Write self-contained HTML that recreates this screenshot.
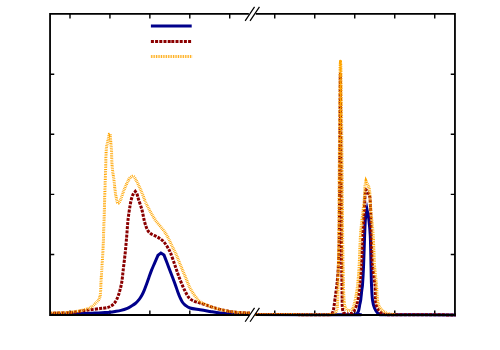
<!DOCTYPE html>
<html><head><meta charset="utf-8"><title>chart</title>
<style>html,body{margin:0;padding:0;background:#fff;font-family:"Liberation Sans",sans-serif;}svg{display:block}</style>
</head><body>
<svg width="500" height="350" viewBox="0 0 500 350">
<rect width="500" height="350" fill="#fff"/>
<defs><clipPath id="cl"><rect x="50.05" y="0" width="200.05" height="317.00"/></clipPath>
<clipPath id="cr"><rect x="255.00" y="0" width="200.85" height="317.00"/></clipPath></defs>
<path d="M70.00,13.90 v4.60 M70.00,315.00 v-4.60 M274.75,13.90 v4.60 M274.75,315.00 v-4.60 M109.93,13.90 v4.60 M109.93,315.00 v-4.60 M314.75,13.90 v4.60 M314.75,315.00 v-4.60 M149.86,13.90 v4.60 M149.86,315.00 v-4.60 M354.75,13.90 v4.60 M354.75,315.00 v-4.60 M189.79,13.90 v4.60 M189.79,315.00 v-4.60 M394.75,13.90 v4.60 M394.75,315.00 v-4.60 M229.72,13.90 v4.60 M229.72,315.00 v-4.60 M434.75,13.90 v4.60 M434.75,315.00 v-4.60 M50.05,74.20 h4.20 M454.95,74.20 h-4.20 M50.05,134.30 h4.20 M454.95,134.30 h-4.20 M50.05,194.40 h4.20 M454.95,194.40 h-4.20 M50.05,254.50 h4.20 M454.95,254.50 h-4.20" fill="none" stroke="#000" stroke-width="1.4"/>
<g clip-path="url(#cl)"><path d="M48.00,314.50 C51.67,314.42 63.83,314.17 70.00,314.00 C76.17,313.83 80.83,313.65 85.00,313.50 C89.17,313.35 91.67,313.25 95.00,313.10 C98.33,312.95 102.50,312.75 105.00,312.60 C107.50,312.45 108.33,312.38 110.00,312.20 C111.67,312.02 113.17,311.80 115.00,311.50 C116.83,311.20 118.95,310.93 121.00,310.40 C123.05,309.87 125.55,309.03 127.30,308.30 C129.05,307.57 130.17,306.80 131.50,306.00 C132.83,305.20 134.02,304.60 135.30,303.50 C136.58,302.40 138.08,300.82 139.20,299.40 C140.32,297.98 141.13,296.60 142.00,295.00 C142.87,293.40 143.62,291.67 144.40,289.80 C145.18,287.93 145.93,285.90 146.70,283.80 C147.47,281.70 148.22,279.40 149.00,277.20 C149.78,275.00 150.48,272.92 151.40,270.60 C152.32,268.28 153.40,265.85 154.50,263.30 C155.60,260.75 156.83,257.97 158.00,255.30 C158.97,254.53 159.93,253.77 160.90,253.00 C161.93,253.67 162.97,254.33 164.00,255.00 C165.00,257.60 166.00,260.18 167.00,262.80 C168.00,265.42 169.03,268.17 170.00,270.70 C170.97,273.23 171.90,275.62 172.80,278.00 C173.70,280.38 174.53,282.58 175.40,285.00 C176.27,287.42 177.23,290.42 178.00,292.50 C178.77,294.58 179.28,295.92 180.00,297.50 C180.72,299.08 181.47,300.75 182.30,302.00 C183.13,303.25 183.72,304.00 185.00,305.00 C186.28,306.00 187.50,307.20 190.00,308.00 C192.50,308.80 196.67,309.23 200.00,309.80 C203.33,310.37 206.67,310.88 210.00,311.40 C213.33,311.92 216.67,312.48 220.00,312.90 C223.33,313.32 226.67,313.65 230.00,313.90 C233.33,314.15 236.33,314.28 240.00,314.40 C243.67,314.52 250.00,314.57 252.00,314.60" fill="none" stroke="#00008b" stroke-width="3" stroke-linejoin="miter" stroke-miterlimit="10"/></g>
<g clip-path="url(#cr)"><path d="M253.00,314.60 C266.47,314.62 340.20,314.82 354.00,314.75 C367.80,314.68 355.90,314.60 356.50,314.10 C357.10,313.60 358.07,312.21 358.50,311.00 C358.93,309.79 359.41,306.47 359.70,305.00 C359.99,303.53 360.42,302.00 360.70,300.00 C360.98,298.00 361.56,292.00 361.80,290.00 C362.04,288.00 362.26,288.33 362.50,285.00 C362.74,281.67 363.32,271.53 363.60,265.00 C363.88,258.47 364.36,242.13 364.60,236.00 C364.84,229.87 365.07,222.49 365.40,219.00 C365.73,215.51 366.50,212.89 367.05,209.83 C367.63,212.89 368.37,215.51 368.80,219.00 C369.23,222.49 370.01,229.87 370.30,236.00 C370.59,242.13 370.84,258.47 371.00,265.00 C371.16,271.53 371.30,280.33 371.50,285.00 C371.70,289.67 372.10,296.93 372.50,300.00 C372.90,303.07 373.83,306.27 374.50,308.00 C375.17,309.73 376.70,312.12 377.50,313.00 C378.30,313.88 379.37,314.37 380.50,314.60 C381.63,314.83 375.67,314.71 386.00,314.75 C396.33,314.79 448.40,314.88 458.00,314.90" fill="none" stroke="#00008b" stroke-width="3" stroke-linejoin="miter" stroke-miterlimit="10"/></g>
<g clip-path="url(#cl)"><path d="M48.00,313.30 C51.67,313.18 64.67,312.95 70.00,312.60 C75.33,312.25 76.67,311.67 80.00,311.20 C83.33,310.73 86.67,310.23 90.00,309.80 C93.33,309.37 97.50,308.90 100.00,308.60 C102.50,308.30 103.67,308.20 105.00,308.00 C106.33,307.80 107.08,307.68 108.00,307.40 C108.92,307.12 109.75,306.70 110.50,306.30 C111.25,305.90 111.80,305.60 112.50,305.00 C113.20,304.40 114.03,303.53 114.70,302.70 C115.37,301.87 115.87,301.28 116.50,300.00 C117.13,298.72 117.92,296.67 118.50,295.00 C119.08,293.33 119.45,292.17 120.00,290.00 C120.55,287.83 121.27,285.33 121.80,282.00 C122.33,278.67 122.62,275.00 123.20,270.00 C123.78,265.00 124.70,257.83 125.30,252.00 C125.90,246.17 126.35,240.33 126.80,235.00 C127.25,229.67 127.47,224.83 128.00,220.00 C128.53,215.17 129.38,209.67 130.00,206.00 C130.62,202.33 131.12,200.08 131.70,198.00 C132.28,195.92 132.91,194.59 133.50,193.50 C134.09,192.41 134.67,192.14 135.26,191.46 C135.84,192.30 136.43,192.58 137.00,194.00 C137.57,195.42 137.87,197.33 138.70,200.00 C139.53,202.67 141.02,206.33 142.00,210.00 C142.98,213.67 143.68,218.67 144.60,222.00 C145.52,225.33 146.43,228.03 147.50,230.00 C148.57,231.97 149.58,232.75 151.00,233.80 C152.42,234.85 154.50,235.48 156.00,236.30 C157.50,237.12 158.75,237.83 160.00,238.70 C161.25,239.57 162.33,240.23 163.50,241.50 C164.67,242.77 165.85,244.45 167.00,246.30 C168.15,248.15 169.07,249.42 170.40,252.60 C171.73,255.78 173.50,261.17 175.00,265.40 C176.50,269.63 177.82,273.90 179.40,278.00 C180.98,282.10 182.87,286.67 184.50,290.00 C186.13,293.33 187.53,296.12 189.20,298.00 C190.87,299.88 192.70,300.47 194.50,301.30 C196.30,302.13 197.42,302.15 200.00,303.00 C202.58,303.85 206.67,305.33 210.00,306.40 C213.33,307.47 216.67,308.55 220.00,309.40 C223.33,310.25 226.67,310.97 230.00,311.50 C233.33,312.03 236.33,312.33 240.00,312.60 C243.67,312.87 250.00,313.02 252.00,313.10" fill="none" stroke="#8b0000" stroke-width="3" stroke-linejoin="miter" stroke-miterlimit="10" stroke-dasharray="3 1.2" stroke-dashoffset="3.317"/></g>
<g clip-path="url(#cr)"><path d="M253.00,314.55 C262.73,314.56 315.73,314.67 326.00,314.65 C336.27,314.63 329.20,314.57 330.00,314.40 C330.80,314.23 331.57,313.85 332.00,313.40 C332.43,312.95 332.96,311.72 333.20,311.00 C333.44,310.28 333.51,310.00 333.80,308.00 C334.09,306.00 334.95,299.47 335.40,296.00 C335.85,292.53 336.77,286.53 337.20,282.00 C337.63,277.47 338.32,268.93 338.60,262.00 C338.88,255.07 339.14,244.93 339.30,230.00 C339.46,215.07 339.67,170.80 339.80,150.00 C339.93,129.20 340.13,99.33 340.30,74.00 C340.50,99.33 340.77,129.20 340.90,150.00 C341.03,170.80 341.21,215.07 341.30,230.00 C341.39,244.93 341.49,253.20 341.60,262.00 C341.71,270.80 342.02,290.27 342.10,296.00 C342.18,301.73 342.12,303.13 342.20,305.00 C342.28,306.87 342.49,308.93 342.70,310.00 C342.91,311.07 343.12,312.51 343.80,313.00 C344.48,313.49 347.27,313.61 347.80,313.70" fill="none" stroke="#8b0000" stroke-width="3" stroke-linejoin="round" stroke-miterlimit="10" stroke-dasharray="3 1.2" stroke-dashoffset="2.165"/></g>
<g clip-path="url(#cr)"><path d="M347.80,313.70 C348.28,313.66 350.68,313.63 351.40,313.40 C352.12,313.17 352.77,312.48 353.20,312.00 C353.63,311.52 354.13,310.73 354.60,309.80 C355.07,308.87 356.26,306.31 356.70,305.00 C357.14,303.69 357.54,302.00 357.90,300.00 C358.26,298.00 358.92,294.67 359.40,290.00 C359.88,285.33 361.05,272.33 361.50,265.00 C361.95,257.67 362.47,241.67 362.80,235.00 C363.13,228.33 363.72,219.93 364.00,215.00 C364.28,210.07 364.73,200.93 364.90,198.00 C365.07,195.07 365.15,194.12 365.30,193.00 C365.45,191.88 365.77,190.73 366.00,189.60 C366.83,190.90 367.97,192.38 368.50,193.50 C369.03,194.62 369.69,195.13 370.00,198.00 C370.31,200.87 370.64,210.07 370.80,215.00 C370.96,219.93 370.97,228.33 371.20,235.00 C371.43,241.67 371.99,258.33 372.50,265.00 C373.01,271.67 374.60,280.33 375.00,285.00 C375.40,289.67 375.34,297.33 375.50,300.00 C375.66,302.67 375.80,303.67 376.20,305.00 C376.60,306.33 377.73,308.87 378.50,310.00 C379.27,311.13 381.00,312.90 382.00,313.50 C383.00,314.10 384.67,314.33 386.00,314.50 C387.33,314.67 382.40,314.70 392.00,314.75 C401.60,314.80 449.20,314.88 458.00,314.90" fill="none" stroke="#8b0000" stroke-width="3" stroke-linejoin="round" stroke-miterlimit="10" stroke-dasharray="3 1.2" stroke-dashoffset="1.991"/></g>
<g clip-path="url(#cl)"><path d="M48.00,313.00 C50.00,312.97 56.33,312.92 60.00,312.80 C63.67,312.68 66.67,312.65 70.00,312.30 C73.33,311.95 77.50,311.17 80.00,310.70 C82.50,310.23 83.33,309.98 85.00,309.50 C86.67,309.02 88.58,308.50 90.00,307.80 C91.42,307.10 92.37,306.27 93.50,305.30 C94.63,304.33 95.92,302.95 96.80,302.00 C97.68,301.05 98.27,300.52 98.80,299.60 C99.33,298.68 99.72,297.68 100.00,296.50 C100.28,295.32 100.37,293.92 100.50,292.50 C100.63,291.08 100.70,290.08 100.80,288.00 C100.90,285.92 100.83,284.67 101.10,280.00 C101.37,275.33 102.02,266.67 102.40,260.00 C102.78,253.33 102.97,252.00 103.40,240.00 C103.83,228.00 104.63,199.67 105.00,188.00 C105.37,176.33 105.45,175.00 105.60,170.00 C105.75,165.00 105.78,161.50 105.90,158.00 C106.02,154.50 106.10,151.25 106.30,149.00 C106.50,146.75 106.78,146.08 107.10,144.50 C107.42,142.92 107.83,141.22 108.20,139.50 C108.57,137.78 108.93,135.97 109.30,134.20 C109.60,134.13 109.90,134.07 110.20,134.00 C110.33,135.83 110.47,137.67 110.60,139.50 C110.73,141.33 110.85,143.25 111.00,145.00 C111.15,146.75 111.37,147.50 111.50,150.00 C111.63,152.50 111.63,156.67 111.80,160.00 C111.97,163.33 112.13,166.67 112.50,170.00 C112.87,173.33 113.58,176.67 114.00,180.00 C114.42,183.33 114.58,186.83 115.00,190.00 C115.42,193.17 116.00,196.80 116.50,199.00 C117.00,201.20 117.33,203.03 118.00,203.20 C118.67,203.37 119.50,202.20 120.50,200.00 C121.50,197.80 122.67,193.33 124.00,190.00 C125.33,186.67 127.30,182.20 128.50,180.00 C129.70,177.80 130.38,177.40 131.20,176.80 C132.02,176.20 132.63,175.92 133.40,176.40 C134.17,176.88 134.95,178.27 135.80,179.70 C136.65,181.13 137.63,183.20 138.50,185.00 C139.37,186.80 139.98,188.05 141.00,190.50 C142.02,192.95 143.67,197.37 144.60,199.70 C145.53,202.03 145.03,201.45 146.60,204.50 C148.17,207.55 151.77,214.42 154.00,218.00 C156.23,221.58 158.33,223.83 160.00,226.00 C161.67,228.17 162.67,229.08 164.00,231.00 C165.33,232.92 166.67,235.00 168.00,237.50 C169.33,240.00 170.67,243.25 172.00,246.00 C173.33,248.75 174.67,251.00 176.00,254.00 C177.33,257.00 178.50,260.33 180.00,264.00 C181.50,267.67 183.33,272.00 185.00,276.00 C186.67,280.00 188.33,284.67 190.00,288.00 C191.67,291.33 193.33,293.73 195.00,296.00 C196.67,298.27 197.50,299.87 200.00,301.60 C202.50,303.33 206.67,305.10 210.00,306.40 C213.33,307.70 216.67,308.55 220.00,309.40 C223.33,310.25 226.67,310.97 230.00,311.50 C233.33,312.03 236.33,312.33 240.00,312.60 C243.67,312.87 250.00,313.02 252.00,313.10" fill="none" stroke="#ffa500" stroke-width="3" stroke-linejoin="miter" stroke-miterlimit="10" stroke-dasharray="0.85 0.85" stroke-dashoffset="0.617"/></g>
<g clip-path="url(#cr)"><path d="M253.00,314.55 C262.60,314.56 314.60,314.67 325.00,314.65 C335.40,314.63 329.73,314.57 331.00,314.40 C332.27,314.23 333.79,313.81 334.50,313.40 C335.21,312.99 335.93,312.15 336.30,311.30 C336.67,310.45 337.10,309.04 337.30,307.00 C337.50,304.96 337.68,300.27 337.80,296.00 C337.92,291.73 338.08,282.47 338.20,275.00 C338.32,267.53 338.54,256.67 338.70,240.00 C338.86,223.33 339.25,168.67 339.40,150.00 C339.55,131.33 339.71,110.93 339.80,100.00 C339.89,89.07 340.01,73.17 340.10,68.00 C340.19,62.83 340.37,63.47 340.50,61.20 C340.63,63.47 340.78,62.83 340.90,68.00 C341.02,73.17 341.27,89.07 341.40,100.00 C341.53,110.93 341.73,131.33 341.90,150.00 C342.07,168.67 342.53,223.33 342.70,240.00 C342.87,256.67 343.05,267.53 343.20,275.00 C343.35,282.47 343.65,292.27 343.80,296.00 C343.95,299.73 344.10,301.47 344.30,303.00 C344.50,304.53 344.97,306.59 345.30,307.50 C345.63,308.41 346.31,309.40 346.80,309.80 C347.29,310.20 348.71,310.41 349.00,310.50" fill="none" stroke="#ffa500" stroke-width="3" stroke-linejoin="round" stroke-miterlimit="10" stroke-dasharray="0.85 0.85" stroke-dashoffset="1.007"/></g>
<g clip-path="url(#cr)"><path d="M349.00,310.50 C349.31,310.43 350.77,310.29 351.30,310.00 C351.83,309.71 352.64,308.97 353.00,308.30 C353.36,307.63 353.71,306.11 354.00,305.00 C354.29,303.89 354.80,302.00 355.20,300.00 C355.60,298.00 356.59,292.93 357.00,290.00 C357.41,287.07 358.01,281.33 358.30,278.00 C358.59,274.67 358.91,270.73 359.20,265.00 C359.49,259.27 360.09,241.40 360.50,235.00 C360.91,228.60 361.87,221.00 362.30,217.00 C362.73,213.00 363.39,207.93 363.70,205.00 C364.01,202.07 364.43,197.53 364.60,195.00 C364.77,192.47 364.82,187.87 365.00,186.00 C365.18,184.13 365.66,182.63 365.99,180.94 C366.86,182.83 368.10,185.09 368.60,186.60 C369.10,188.11 369.51,189.85 369.75,192.30 C369.99,194.75 370.13,201.31 370.40,205.00 C370.67,208.69 371.43,216.00 371.80,220.00 C372.17,224.00 372.84,229.00 373.20,235.00 C373.56,241.00 374.06,258.33 374.50,265.00 C374.94,271.67 376.10,280.33 376.50,285.00 C376.90,289.67 377.10,297.07 377.50,300.00 C377.90,302.93 378.77,305.53 379.50,307.00 C380.23,308.47 381.87,310.12 383.00,311.00 C384.13,311.88 386.80,313.16 388.00,313.60 C389.20,314.04 390.99,314.17 392.00,314.30 C393.01,314.43 395.12,314.56 395.60,314.60" fill="none" stroke="#ffa500" stroke-width="3" stroke-linejoin="miter" stroke-miterlimit="10" stroke-dasharray="0.85 0.85" stroke-dashoffset="1.663"/></g>
<path d="M150.9,26 H191.7" stroke="#00008b" stroke-width="3" fill="none"/>
<path d="M150.9,41.4 H171.3 M171.3,41.4 H191.7" stroke="#8b0000" stroke-width="3" stroke-dasharray="3 1.2" fill="none"/>
<path d="M150.9,56.4 H171.3 M171.3,56.4 H192.1" stroke="#ffa500" stroke-width="3" stroke-dasharray="0.85 0.85" fill="none"/>
<path d="M248.85,13.90 H50.05 V315.00 H248.85 M255.75,13.90 H454.95 V315.00 H255.75" fill="none" stroke="#000" stroke-width="1.8" stroke-linejoin="miter"/>
<path d="M245.15,20.85 L254.55,6.95 M245.15,321.75 L254.55,307.85 M250.05,20.85 L259.45,6.95 M250.05,321.75 L259.45,307.85" fill="none" stroke="#000" stroke-width="1.2"/>
</svg>
</body></html>
